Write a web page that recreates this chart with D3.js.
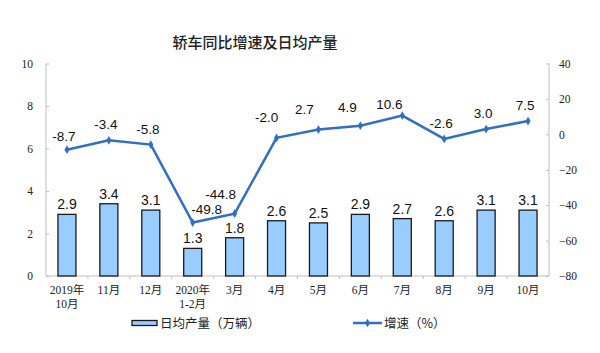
<!DOCTYPE html>
<html>
<head>
<meta charset="utf-8">
<script src="https://cdn.jsdelivr.net/npm/d3@7"></script>
<style>
  body { margin: 0; background: #fff; }
  svg { display: block; }
</style>
</head>
<body>
<svg id="chart" width="600" height="353"></svg>
<script>
const months = ['2019年|10月', '11月', '12月', '2020年|1-2月', '3月', '4月', '5月', '6月', '7月', '8月', '9月', '10月']
const output = [2.9, 3.4, 3.1, 1.3, 1.8, 2.6, 2.5, 2.9, 2.7, 2.6, 3.1, 3.1] // 日均产量 (万辆)
const growth = [-8.7, -3.4, -5.8, -49.8, -44.8, -2.0, 2.7, 4.9, 10.6, -2.6, 3.0, 7.5] // 增速 (%)
const leftTicks = [0, 2, 4, 6, 8, 10]
const rightTicks = [-80, -60, -40, -20, 0, 20, 40]

const svg = d3.select('#chart')
const plotL = 46, plotR = 549, plotT = 63.5, plotB = 276
const serif = '"Liberation Serif", "Times New Roman", "Noto Sans CJK SC", serif'
const sans = '"Liberation Sans", Arial, "Noto Sans CJK SC", sans-serif'
const axisColor = '#bfbfbf'
const lineColor = '#2f6fc4'

const x = d3.scaleBand().domain(d3.range(months.length)).range([plotL, plotR]).paddingInner(0.57).paddingOuter(0.285)
const yL = d3.scaleLinear().domain([0, 10]).range([plotB, plotT])
const yR = d3.scaleLinear().domain([-80, 40]).range([plotB, plotT])
const cx = i => x(i) + x.bandwidth() / 2

// title
svg.append('text')
  .attr('x', 255).attr('y', 48)
  .attr('text-anchor', 'middle')
  .style('font-family', '"Noto Sans CJK SC", sans-serif')
  .style('font-size', '15px')
  .style('font-weight', 500)
  .attr('fill', '#222')
  .text('轿车同比增速及日均产量')

// axes (ticks point inward)
const gL = svg.append('g').attr('transform', `translate(${plotL},0)`)
  .call(d3.axisRight(yL).tickValues(leftTicks).tickSize(3).tickFormat(d3.format('d')))
const gR = svg.append('g').attr('transform', `translate(${plotR},0)`)
  .call(d3.axisLeft(yR).tickValues(rightTicks).tickSize(3).tickFormat(d3.format('d')))
;[gL, gR].forEach(g => {
  g.select('.domain').attr('stroke', axisColor).attr('d', `M0,${plotT}V${plotB}`)
  g.selectAll('.tick line').attr('stroke', axisColor)
  g.selectAll('.tick text').style('font-family', serif).style('font-size', '11.5px').attr('fill', '#222')
})
gL.selectAll('.tick text').attr('text-anchor', 'end').attr('x', -13)
gR.selectAll('.tick text').attr('text-anchor', 'start').attr('x', 10)

// x axis baseline and boundary ticks
svg.append('line').attr('x1', plotL).attr('x2', plotR).attr('y1', plotB).attr('y2', plotB).attr('stroke', axisColor)
svg.selectAll('.xtick').data(d3.range(1, months.length)).join('line')
  .attr('x1', i => x(i) - x.step() * x.paddingInner() / 2)
  .attr('x2', i => x(i) - x.step() * x.paddingInner() / 2)
  .attr('y1', plotB).attr('y2', plotB + 3).attr('stroke', axisColor)

// category labels
svg.selectAll('.cat').data(months).join('text')
  .attr('x', (d, i) => cx(i)).attr('y', 294)
  .attr('text-anchor', 'middle')
  .style('font-family', serif).style('font-size', '11.5px').attr('fill', '#222')
  .each(function (d) {
    d.split('|').forEach((s, k) => {
      d3.select(this).append('tspan').attr('x', d3.select(this).attr('x')).attr('dy', k ? 14 : 0).text(s)
    })
  })

// bars
svg.selectAll('.bar').data(output).join('rect')
  .attr('x', (d, i) => x(i)).attr('width', x.bandwidth())
  .attr('y', d => yL(d)).attr('height', d => plotB - yL(d))
  .attr('fill', '#99ccff').attr('stroke', '#1a1a1a').attr('stroke-width', 1.3)
svg.selectAll('.barlab').data(output).join('text')
  .attr('x', (d, i) => cx(i)).attr('y', d => yL(d) - 5)
  .attr('text-anchor', 'middle')
  .style('font-family', sans).style('font-size', '14px').attr('fill', '#111')
  .text(d => d.toFixed(1))

// line
const line = d3.line().x((d, i) => cx(i)).y(d => yR(d))
svg.append('path').datum(growth).attr('d', line)
  .attr('fill', 'none').attr('stroke', lineColor).attr('stroke-width', 2.5)
svg.selectAll('.pt').data(growth).join('path')
  .attr('transform', (d, i) => `translate(${cx(i)},${yR(d)})`)
  .attr('d', d3.symbol(d3.symbolDiamond, 22)).attr('fill', lineColor)

// label nudges (Excel style placement)
const dxs = [-3, -3, -3, 14, -14, -10, -14, -13, -13, -3, -3, -3]
const dys = [-9, -11, -11, -9, -15, -16, -16, -14, -7, -11, -11, -11]
svg.selectAll('.linelab').data(growth).join('text')
  .attr('x', (d, i) => cx(i) + dxs[i]).attr('y', (d, i) => yR(d) + dys[i])
  .attr('text-anchor', 'middle')
  .style('font-family', sans).style('font-size', '13.5px').attr('fill', '#111')
  .text(d => d.toFixed(1))

// legend
const lg = svg.append('g')
lg.append('rect').attr('x', 132).attr('y', 320.5).attr('width', 25).attr('height', 5)
  .attr('fill', '#99ccff').attr('stroke', '#1a1a1a').attr('stroke-width', 1.3)
lg.append('text').attr('x', 160).attr('y', 328)
  .style('font-family', '"Noto Sans CJK SC", sans-serif').style('font-size', '12.5px').attr('fill', '#222')
  .text('日均产量（万辆）')
lg.append('line').attr('x1', 353).attr('x2', 382).attr('y1', 323).attr('y2', 323)
  .attr('stroke', lineColor).attr('stroke-width', 2.5)
lg.append('path').attr('transform', 'translate(367.5,323)').attr('d', d3.symbol(d3.symbolDiamond, 22)).attr('fill', lineColor)
lg.append('text').attr('x', 384).attr('y', 328)
  .style('font-family', '"Noto Sans CJK SC", sans-serif').style('font-size', '12.5px').attr('fill', '#222')
  .text('增速（%）')
</script>
</body>
</html>
